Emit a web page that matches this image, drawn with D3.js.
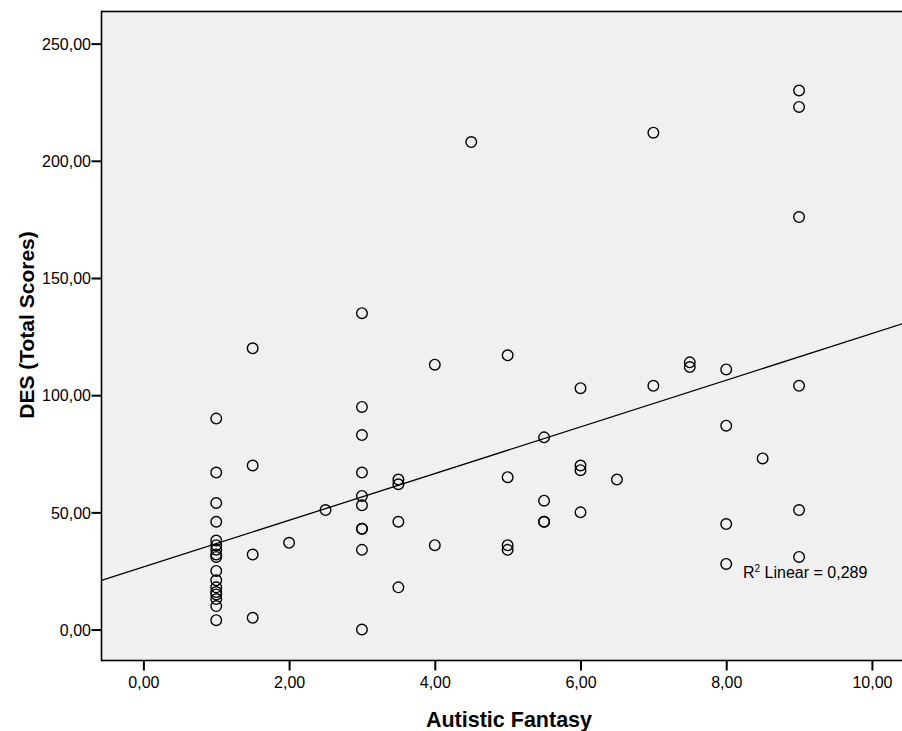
<!DOCTYPE html>
<html>
<head>
<meta charset="utf-8">
<style>
  body { margin: 0; background: #ffffff; }
  svg { display: block; font-family: Arial, "Liberation Sans", sans-serif; }
</style>
<script src="https://d3js.org/d3.v7.min.js"></script>
</head>
<body>
<svg id="chart" width="902" height="731"></svg>
<script>
// Autistic Fantasy score (x) and DES total score (y), one entry per person
const fantasy = [
  1, 1, 1, 1, 1, 1, 1, 1, 1, 1, 1, 1, 1, 1, 1, 1, 1,
  1.5, 1.5, 1.5, 1.5,
  2, 2.5,
  3, 3, 3, 3, 3, 3, 3, 3, 3, 3,
  3.5, 3.5, 3.5, 3.5,
  4, 4, 4.5,
  5, 5, 5, 5,
  5.5, 5.5, 5.5, 5.5,
  6, 6, 6, 6, 6.5,
  7, 7, 7.5, 7.5,
  8, 8, 8, 8, 8.5,
  9, 9, 9, 9, 9, 9
];
const desTotal = [
  90, 67, 54, 46, 38, 36, 34, 32, 31, 25, 21, 18, 16, 15, 13, 10, 4,
  120, 70, 32, 5,
  37, 51,
  135, 95, 83, 67, 57, 53, 43, 43, 34, 0,
  64, 62, 46, 18,
  113, 36, 208,
  117, 65, 36, 34,
  82, 55, 46, 46,
  103, 70, 68, 50, 64,
  212, 104, 114, 112,
  111, 87, 45, 28, 73,
  230, 223, 176, 104, 51, 31
];

// fit line
const fitIntercept = 26.7;
const fitSlope = 9.96;
const rSquared = "0,289";

const xTicks = [0, 2, 4, 6, 8, 10];
const yTicks = [0, 50, 100, 150, 200, 250];

const svg = d3.select("#chart");
const plotLeft = 101.5, plotTop = 11.5, plotBottom = 660.5, plotRight = 920;

const x = d3.scaleLinear().domain([-0.575, 10.66]).range([plotLeft, plotRight]);
const y = d3.scaleLinear().domain([-13.2, 263.7]).range([plotBottom, plotTop]);

const fmt = d => d3.format(".2f")(d).replace(".", ",");

svg.append("rect")
  .attr("x", plotLeft).attr("y", plotTop)
  .attr("width", plotRight - plotLeft).attr("height", plotBottom - plotTop)
  .attr("fill", "#f0f0f0")
  .attr("stroke", "#000").attr("stroke-width", 1.6);

// fit line
const xd = x.domain();
svg.append("line")
  .attr("x1", x(xd[0])).attr("y1", y(fitIntercept + fitSlope * xd[0]))
  .attr("x2", x(xd[1])).attr("y2", y(fitIntercept + fitSlope * xd[1]))
  .attr("stroke", "#000").attr("stroke-width", 1.3);

// points
svg.append("g").selectAll("circle")
  .data(fantasy.map((f, i) => [f, desTotal[i]]))
  .enter().append("circle")
  .attr("cx", d => x(d[0]))
  .attr("cy", d => y(d[1]))
  .attr("r", 5.3)
  .attr("fill", "none")
  .attr("stroke", "#000")
  .attr("stroke-width", 1.4);

// axes
const xAxis = d3.axisBottom(x).tickValues(xTicks).tickFormat(fmt).tickSize(10).tickSizeOuter(0);
const gx = svg.append("g").attr("transform", `translate(0,${plotBottom})`).call(xAxis);
gx.select(".domain").remove();
gx.selectAll("line").attr("stroke", "#000").attr("stroke-width", 2);
gx.selectAll("text").attr("font-size", 16).attr("fill", "#000")
  .attr("font-family", 'Arial, "Liberation Sans", sans-serif')
  .attr("dy", null).attr("y", 27.5);

const yAxis = d3.axisLeft(y).tickValues(yTicks).tickFormat(fmt).tickSize(10).tickSizeOuter(0);
const gy = svg.append("g").attr("transform", `translate(${plotLeft},0)`).call(yAxis);
gy.select(".domain").remove();
gy.selectAll("line").attr("stroke", "#000").attr("stroke-width", 2);
gy.selectAll("text").attr("font-size", 16).attr("fill", "#000")
  .attr("font-family", 'Arial, "Liberation Sans", sans-serif')
  .attr("dy", "0.36em").attr("x", -10.5);

// titles
svg.append("text")
  .attr("x", 509).attr("y", 726.5)
  .attr("text-anchor", "middle")
  .attr("font-size", 21.5).attr("font-weight", "bold")
  .text("Autistic Fantasy");

svg.append("text")
  .attr("transform", "translate(34,325) rotate(-90)")
  .attr("text-anchor", "middle")
  .attr("font-size", 21).attr("font-weight", "bold")
  .text("DES (Total Scores)");

// R squared note
const note = svg.append("text")
  .attr("x", 743).attr("y", 577.5)
  .attr("font-size", 16);
note.append("tspan").text("R");
note.append("tspan").attr("font-size", 10).attr("dy", -6).text("2");
note.append("tspan").attr("dy", 6).text(" Linear = " + rSquared);
</script>
</body>
</html>
